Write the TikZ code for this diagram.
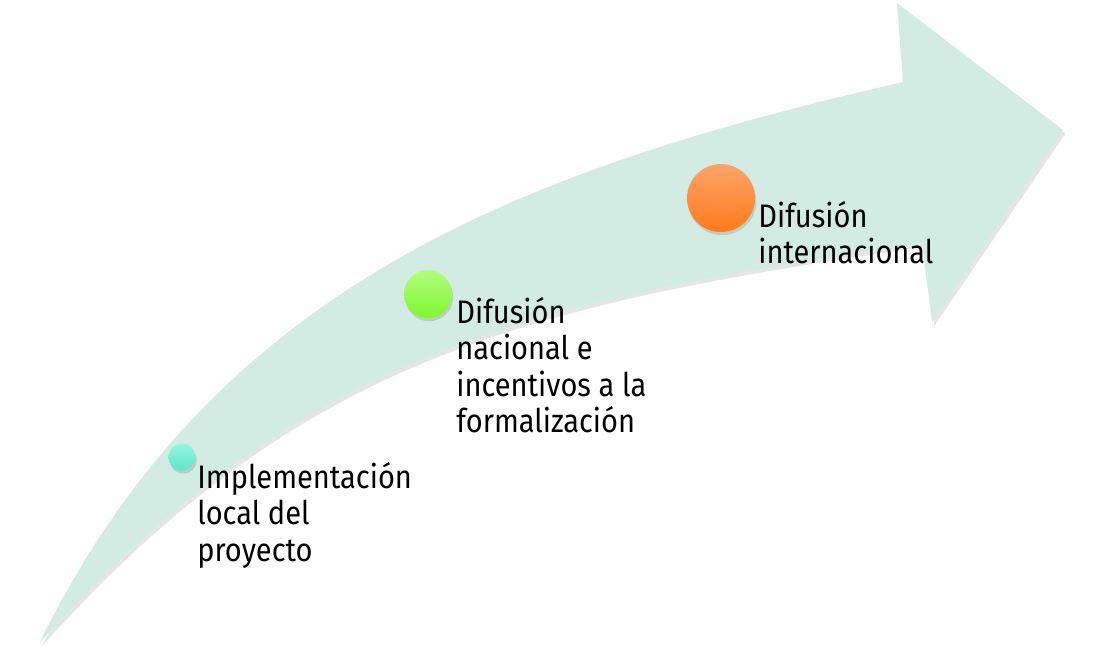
\documentclass[tikz,border=0pt]{standalone}
\usepackage{fontspec}
\setmainfont{Fira Sans}[FakeStretch=0.89]
\usetikzlibrary{shadows}
\definecolor{mint}{HTML}{D3ECE3}
\definecolor{tealA}{HTML}{92F7E2}
\definecolor{tealB}{HTML}{5EE6C6}
\definecolor{greenA}{HTML}{B2FF7E}
\definecolor{greenB}{HTML}{7DF72E}
\definecolor{orangeA}{HTML}{FFA468}
\definecolor{orangeB}{HTML}{FF7A1C}
\tikzset{
  dot/.style={circle, inner sep=0pt, draw=none,
    drop shadow={shadow xshift=0.6pt, shadow yshift=-1.6pt, opacity=0.28}},
  lbl/.style={anchor=base west, align=left, inner sep=0pt,
    font=\fontsize{16.3}{18.25}\selectfont, text=black},
}
\begin{document}
\begin{tikzpicture}[x=0.5pt,y=-0.5pt]
\useasboundingbox[fill=white] (0,0) rectangle (1104,645);
% curved arrow
\fill[mint, drop shadow={shadow xshift=1.2pt, shadow yshift=-1.8pt, opacity=0.2}]
  (40,642) .. controls (215,285) and (523,169) .. (903,82)
  -- (897,3) -- (1063,130) -- (932,322) -- (922,243)
  .. controls (522,302) and (300,353) .. (40,642)
  -- cycle;
% circles
\node[dot, minimum size=13.5pt, top color=tealA, bottom color=tealB] (c1) at (182,457) {};
\node[dot, minimum size=24pt, top color=greenA, bottom color=greenB] (c2) at (428,294) {};
\node[dot, minimum size=34pt, top color=orangeA, bottom color=orangeB] (c3) at (721,198) {};
% labels (base anchor = baseline of last line)
\node[lbl] (t1) at (197,561) {Implementación\\local del\\proyecto};
\node[lbl] (t2) at (456,432.5) {Difusión\\nacional e\\incentivos a la\\formalización};
\node[lbl] (t3) at (758,263.5) {Difusión\\internacional};
\end{tikzpicture}
\end{document}
